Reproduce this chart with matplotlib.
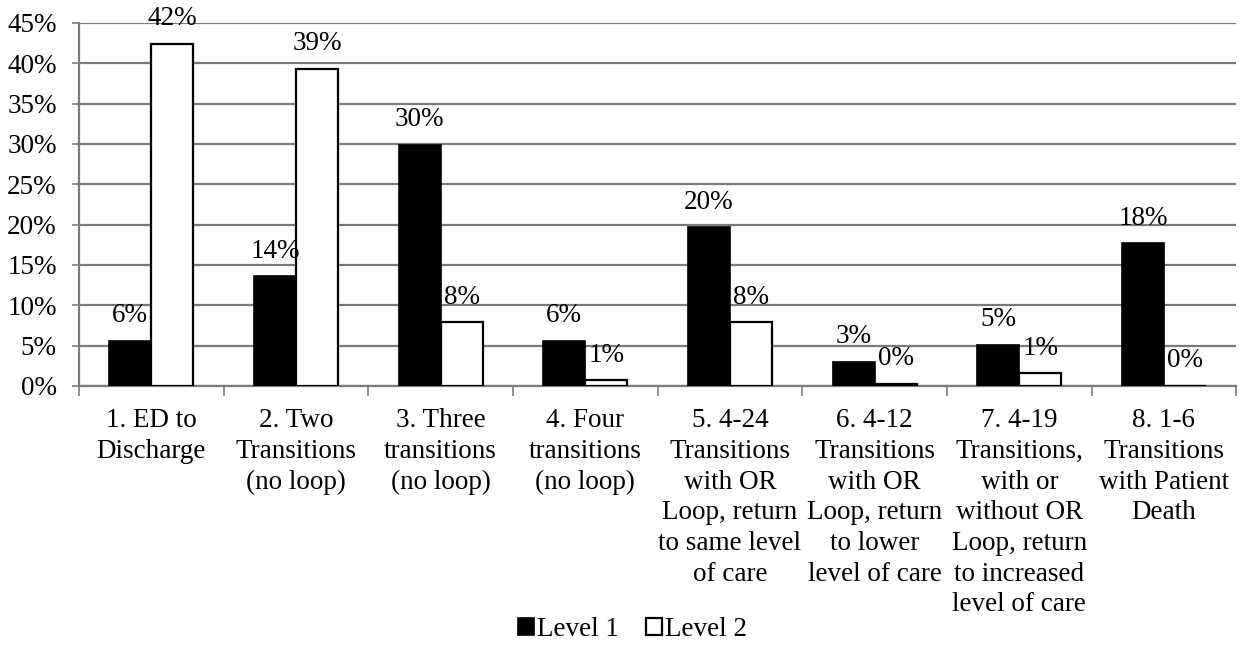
import matplotlib.pyplot as plt
import numpy as np

# data
categories = [
    "1. ED to\nDischarge",
    "2. Two\nTransitions\n(no loop)",
    "3. Three\ntransitions\n(no loop)",
    "4. Four\ntransitions\n(no loop)",
    "5. 4-24\nTransitions\nwith OR\nLoop, return\nto same level\nof care",
    "6. 4-12\nTransitions\nwith OR\nLoop, return\nto lower\nlevel of care",
    "7. 4-19\nTransitions,\nwith or\nwithout OR\nLoop, return\nto increased\nlevel of care",
    "8. 1-6\nTransitions\nwith Patient\nDeath",
]
level1 = [5.6, 13.6, 29.9, 5.6, 19.7, 3.0, 5.1, 17.7]
level2 = [42.4, 39.3, 7.9, 0.7, 7.9, 0.3, 1.6, 0.0]
level1_labels = ["6%", "14%", "30%", "6%", "20%", "3%", "5%", "18%"]
level2_labels = ["42%", "39%", "8%", "1%", "8%", "0%", "1%", "0%"]
yticks = [0, 5, 10, 15, 20, 25, 30, 35, 40, 45]

plt.rcParams['font.family'] = ['Liberation Serif', 'DejaVu Serif']
fs = 19.5

fig = plt.figure(figsize=(12.5, 6.46), dpi=100)
ax = fig.add_axes([0.0632, 0.4025, 0.9258, 0.5619])

x = np.arange(len(categories))
w = 0.29
b1 = ax.bar(x - w / 2, level1, w, color='black', edgecolor='black', linewidth=1.2,
            label='Level 1', zorder=3)
b2 = ax.bar(x + w / 2, level2, w, color='white', edgecolor='black', linewidth=1.6,
            label='Level 2', zorder=3)

for xi, v, t in zip(x - w / 2, level1, level1_labels):
    ax.annotate(t, (xi, v), xytext=(0, 18), textcoords='offset points',
                ha='center', va='center', fontsize=fs, zorder=4)
for xi, v, t in zip(x + w / 2, level2, level2_labels):
    ax.annotate(t, (xi, v), xytext=(0, 18), textcoords='offset points',
                ha='center', va='center', fontsize=fs, zorder=4)

ax.set_xlim(-0.5, len(categories) - 0.5)
ax.set_ylim(0, 45)
ax.set_yticks(yticks)
ax.set_yticklabels([f"{t}%" for t in yticks], fontsize=fs)
ax.yaxis.grid(True, color='#7a7a7a', linewidth=1.6, zorder=0)
ax.set_axisbelow(True)

ax.set_xticks(x)
ax.set_xticklabels(categories, linespacing=1.3, va='top', fontsize=fs)
ax.set_xticks(np.arange(-0.5, len(categories), 1), minor=True)
ax.tick_params(axis='x', which='major', length=0, pad=16)
ax.tick_params(axis='x', which='minor', length=7, width=1.2, color='#7a7a7a', direction='out')
ax.tick_params(axis='y', length=5, width=1.2, color='#7a7a7a', pad=11)

for s in ['top', 'right']:
    ax.spines[s].set_visible(False)
for s in ['left', 'bottom']:
    ax.spines[s].set_color('#7a7a7a')
    ax.spines[s].set_linewidth(1.6)

fig.legend(handles=[b1, b2], labels=['Level 1', 'Level 2'], loc='center',
           bbox_to_anchor=(0.506, 0.025), ncol=2, frameon=False,
           handlelength=0.6, handleheight=0.6, handletextpad=0.1,
           columnspacing=1.0, fontsize=fs)

fig.savefig('out.png', dpi=100)
